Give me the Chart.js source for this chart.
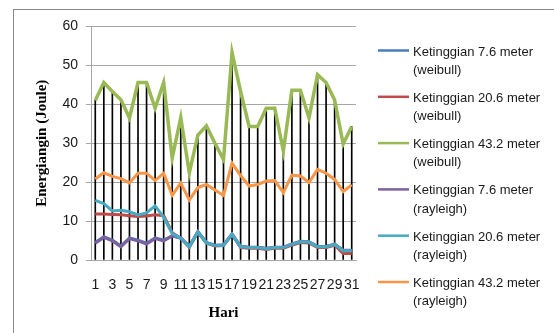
<!DOCTYPE html>
<html>
<head>
<meta charset="utf-8">
<script src="https://cdn.jsdelivr.net/npm/chart.js@4/dist/chart.umd.min.js"></script>
<style>
  html, body { margin: 0; padding: 0; background: #ffffff; }
  #wrap { width: 554px; height: 333px; position: relative; }
</style>
</head>
<body>
<div id="wrap"><canvas id="c" width="554" height="333"></canvas></div>
<script>
// Days of the month
const hari = ['1','2','3','4','5','6','7','8','9','10','11','12','13','14','15','16',
              '17','18','19','20','21','22','23','24','25','26','27','28','29','30','31'];

// Wind energy (Joule) per day, Weibull distribution
const weibull76 = [4.5, 6.0, 5.1, 3.6, 5.7, 5.1, 4.3, 5.7, 5.1, 6.2, 5.6, 3.4, 7.2, 4.4, 3.7, 3.8,
                   6.6, 3.4, 3.2, 3.2, 2.9, 3.2, 3.2, 4.0, 4.7, 4.6, 3.4, 3.4, 4.0, 2.4, 2.4];
const weibull206 = [11.8, 11.8, 11.7, 11.6, 11.4, 11.2, 11.3, 11.6, 11.4, 7.0, 5.6, 3.3, 7.2, 4.4, 3.6, 3.7,
                    6.6, 3.2, 3.0, 3.0, 2.7, 3.0, 3.0, 3.8, 4.5, 4.4, 3.2, 3.2, 3.8, 1.7, 1.7];
const weibull432 = [41.0, 45.6, 43.3, 41.2, 36.5, 45.6, 45.6, 39.0, 45.6, 26.2, 36.6, 22.4, 32.1, 34.5, 30.0, 25.8,
                    53.3, 43.3, 34.3, 34.3, 39.0, 39.0, 28.0, 43.6, 43.6, 36.5, 47.6, 45.6, 41.1, 29.8, 34.3];

// Wind energy (Joule) per day, Rayleigh distribution
const rayleigh76 = [4.3, 5.8, 4.9, 3.4, 5.5, 4.9, 4.1, 5.5, 4.9, 6.2, 5.7, 3.5, 7.3, 4.5, 3.8, 3.9,
                    6.7, 3.5, 3.3, 3.3, 3.0, 3.3, 3.3, 4.1, 4.8, 4.7, 3.5, 3.5, 4.1, 2.5, 2.5];
const rayleigh206 = [15.3, 14.5, 12.6, 12.8, 12.4, 11.6, 12.1, 13.9, 11.0, 6.8, 5.6, 3.4, 7.2, 4.4, 3.7, 3.8,
                     6.6, 3.4, 3.2, 3.2, 2.9, 3.2, 3.2, 4.0, 4.7, 4.6, 3.4, 3.4, 4.0, 2.4, 2.4];
const rayleigh432 = [20.8, 22.4, 21.5, 20.9, 19.8, 22.3, 22.3, 20.4, 22.3, 16.6, 19.8, 15.4, 18.6, 19.4, 18.0, 16.6,
                     24.9, 21.7, 19.0, 19.4, 20.3, 20.4, 17.3, 21.8, 21.6, 19.9, 23.3, 22.3, 20.7, 17.6, 19.3];

// Y axis ticks
const yTicks = [0, 10, 20, 30, 40, 50, 60];

// Series names (two lines each in the legend)
const seriesNames = [
  ['Ketinggian 7.6 meter', '(weibull)'],
  ['Ketinggian 20.6 meter', '(weibull)'],
  ['Ketinggian 43.2 meter', '(weibull)'],
  ['Ketinggian 7.6 meter', '(rayleigh)'],
  ['Ketinggian 20.6 meter', '(rayleigh)'],
  ['Ketinggian 43.2 meter', '(rayleigh)']
];
const seriesColors = ['#4A7EBB', '#BE4B48', '#98B954', '#7D60A0', '#46AAC5', '#F79646'];
const seriesValues = [weibull76, weibull206, weibull432, rayleigh76, rayleigh206, rayleigh432];

const FONT_SANS = 'Liberation Sans';
const FONT_SERIF = 'Liberation Serif';

function lineSet(i) {
  return {
    type: 'line',
    label: seriesNames[i].join(' '),
    data: seriesValues[i],
    borderColor: seriesColors[i],
    backgroundColor: seriesColors[i],
    borderWidth: i === 2 ? 3.5 : 3,
    pointRadius: 0,
    tension: 0,
    fill: false,
    order: 6 - i
  };
}

// Drop lines from the 43.2 m Weibull series down to the axis
const dropLines = {
  type: 'bar',
  label: 'drop',
  data: weibull432,
  backgroundColor: '#000000',
  borderWidth: 0,
  barThickness: 1,
  order: 20
};

// Outer frame around the chart
const framePlugin = {
  id: 'frame',
  beforeDraw(chart) {
    const ctx = chart.ctx;
    ctx.save();
    ctx.fillStyle = '#ffffff';
    ctx.fillRect(0, 0, chart.width, chart.height);
    ctx.strokeStyle = '#8a8a8a';
    ctx.lineWidth = 1;
    ctx.strokeRect(13.5, 9.5, chart.width + 20, chart.height + 20);
    ctx.restore();
  }
};

// Legend on the right with two-line entries
const legendPlugin = {
  id: 'sideLegend',
  afterDraw(chart) {
    const ctx = chart.ctx;
    ctx.save();
    ctx.font = '13px "' + FONT_SANS + '"';
    ctx.textBaseline = 'middle';
    ctx.textAlign = 'left';
    for (let i = 0; i < seriesNames.length; i++) {
      const y = 50.5 + i * 46.3;
      ctx.strokeStyle = seriesColors[i];
      ctx.lineWidth = 2.5;
      ctx.beginPath();
      ctx.moveTo(378, y);
      ctx.lineTo(409, y);
      ctx.stroke();
      ctx.fillStyle = '#1a1a1a';
      ctx.fillText(seriesNames[i][0], 413, y + 1.5);
      ctx.fillText(seriesNames[i][1], 413, y + 19.8);
    }
    ctx.restore();
  }
};

new Chart(document.getElementById('c'), {
  data: {
    labels: hari,
    datasets: [0, 1, 2, 3, 4, 5].map(lineSet).concat([dropLines])
  },
  options: {
    responsive: false,
    animation: false,
    layout: { padding: { top: 26.5, right: 198, bottom: 0, left: 0 } },
    plugins: {
      legend: { display: false },
      tooltip: { enabled: false }
    },
    scales: {
      x: {
        type: 'category',
        offset: true,
        grid: { display: false, drawTicks: false },
        border: { display: true, color: '#a6a6a6', width: 1 },
        ticks: {
          autoSkip: false,
          maxRotation: 0,
          padding: 17,
          color: '#1a1a1a',
          font: { family: FONT_SANS, size: 14 },
          callback: function (v, idx) { return idx % 2 === 0 ? hari[idx] : ''; }
        },
        title: {
          display: true,
          text: 'Hari',
          color: '#000000',
          font: { family: FONT_SERIF, size: 15, weight: 'bold' },
          padding: { top: 0, bottom: 11 }
        },
        afterFit(scale) { scale.height = 73; }
      },
      y: {
        min: 0,
        max: 60,
        afterBuildTicks(scale) { scale.ticks = yTicks.map(v => ({ value: v })); },
        grid: { color: '#a6a6a6', lineWidth: 1, drawTicks: true, tickLength: 5 },
        border: { display: true, color: '#a6a6a6', width: 1 },
        ticks: {
          padding: 8,
          color: '#1a1a1a',
          font: { family: FONT_SANS, size: 14 }
        },
        title: {
          display: true,
          text: 'Energiangin (Joule)',
          color: '#000000',
          font: { family: FONT_SERIF, size: 15, weight: 'bold' },
          padding: { top: 33, bottom: 0 }
        },
        afterFit(scale) { scale.width = 91; }
      }
    }
  },
  plugins: [framePlugin, legendPlugin]
});
</script>
</body>
</html>
